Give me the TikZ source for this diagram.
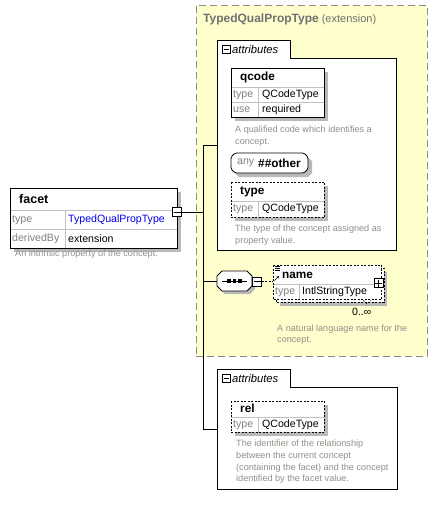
\documentclass[tikz,border=0pt]{standalone}
\usepackage{fontspec}
\setmainfont{Liberation Sans}
\usetikzlibrary{arrows.meta}
\definecolor{yel}{RGB}{255,255,206}
\definecolor{frame}{RGB}{140,140,140}
\definecolor{shadc}{RGB}{185,185,185}
\definecolor{gridc}{RGB}{192,192,192}
\definecolor{lbl}{RGB}{128,128,128}
\definecolor{ttl}{RGB}{112,112,112}
\definecolor{desc}{RGB}{148,142,136}
\definecolor{lnk}{RGB}{0,0,230}
\tikzset{
  x=1pt, y=-1pt,
  bl/.style={line width=0.8pt, draw=black},
  elbox/.style={inner sep=0pt, anchor=north west},
  dsh/.style={dash pattern=on 2pt off 1.5pt},
  cell/.style={inner sep=0pt, anchor=west, font=\fontsize{10.6}{12}\selectfont},
  lab/.style={cell, text=lbl},
  head/.style={inner sep=0pt, anchor=west, font=\fontsize{11.8}{13}\selectfont\bfseries},
  dsc/.style={inner sep=0pt, anchor=north west, align=left, text=desc,
    font=\fontsize{9.1}{11.6}\selectfont},
  sq/.style={draw=black, line width=0.7pt, fill=white, minimum width=9, minimum height=9, inner sep=0pt},
  grid/.style={line width=0.5pt, draw=gridc},
  shd/.style={fill=shadc},
}
\begin{document}
\begin{tikzpicture}
\useasboundingbox (0,0) rectangle (438,507);
\fill[white] (0,0) rectangle (438,507);

% yellow extension frame
\node[draw=frame, fill=yel, line width=0.8pt, dash pattern=on 7pt off 4pt,
  inner sep=0pt, anchor=north west, minimum width=231, minimum height=351] (ext) at (196,5) {};
\node[inner sep=0pt, anchor=west, text=ttl, font=\fontsize{11}{13}\selectfont] (extt) at (203,19)
  {{\fontsize{12}{13}\selectfont\bfseries TypedQualPropType} (extension)};

% ---------- facet ----------
\fill[shd] (14,192) rectangle (181,252);
\node[elbox, fill=white, minimum width=167, minimum height=60] (facet) at (10,188) {};
\draw[grid] (10,210) -- (177,210) (10,229) -- (177,229) (65,210) -- (65,248);
\draw[bl] (facet.north west) rectangle (facet.south east);
\node[head, font=\fontsize{12.5}{14}\selectfont\bfseries] (facetn) at (19,199) {facet};
\node[lab] (ft) at (12,220) {type};
\node[cell, text=lnk] (ftv) at (68,220) {TypedQualPropType};
\node[lab] (fd) at (12,239) {derivedBy};
\node[cell] (fdv) at (68,239) {extension};
\node[dsc] (fdesc) at (15,250) {An intrinsic property of the concept.};
\node[sq] (fm) at (177,212) {};
\draw[line width=0.7pt] (173.5,212) -- (180.5,212);

% ---------- attributes 1 ----------
\node[inner sep=0pt, anchor=north west, minimum width=179, minimum height=192] (attr1) at (217,58) {};
\draw[bl, fill=white] (attr1.south west) -- (217,40) -- (290,40) -- (290,58) -- (attr1.north east)
  -- (attr1.south east) -- cycle;
\node[sq, minimum width=8, minimum height=8] (a1m) at (226.5,49) {};
\draw[line width=0.6pt] (224,49) -- (229,49);
\node[inner sep=0pt, anchor=west, font=\fontsize{11.2}{12}\selectfont\itshape] (a1t) at (232,49) {attributes};

% qcode
\fill[shd] (235,72) rectangle (328,121);
\node[elbox, fill=white, minimum width=93, minimum height=49] (qcode) at (231,68) {};
\draw[grid] (231,87) -- (324,87) (231,102) -- (324,102) (258,87) -- (258,117);
\draw[bl] (qcode.north west) rectangle (qcode.south east);
\node[head] (qn) at (240,77) {qcode};
\node[lab] (qt) at (233,95) {type};
\node[cell] (qtv) at (262,95) {QCodeType};
\node[lab] (qu) at (233,110) {use};
\node[cell] (quv) at (262,110) {required};
\node[dsc] (qdesc) at (235,126) {A qualified code which identifies a\\concept.};

% any ##other
\node[inner sep=0pt, minimum width=77, minimum height=20] (any) at (269.5,163) {};
\fill[shd] (235,161) -- (239,157) -- (308,157) -- (312,161) -- (312,173) -- (308,177) -- (239,177) -- (235,173) -- cycle;
\draw[bl, fill=white, rounded corners=1.5pt] (231,157) -- (235,153) -- (304,153) -- (308,157) -- (308,169) -- (304,173) -- (235,173) -- (231,169) -- cycle;
\node[lab] (anyl) at (237,163) {any};
\node[head] (anyv) at (258,163) {\#\#other};

% type
\fill[shd] (235,186) rectangle (328,221);
\node[elbox, fill=white, minimum width=93, minimum height=35] (typeb) at (231,182) {};
\draw[grid] (231,201) -- (324,201) (258,201) -- (258,217);
\draw[bl, dsh] (typeb.north west) rectangle (typeb.south east);
\node[head] (tn) at (240,191.5) {type};
\node[lab] (tt) at (233,209) {type};
\node[cell] (ttv) at (262,209) {QCodeType};
\node[dsc] (tdesc) at (235,225) {The type of the concept assigned as\\property value.};

% ---------- sequence ----------
\node[inner sep=0pt, minimum width=35, minimum height=21] (seq) at (234.5,281) {};
\fill[shd] (220,279) -- (225,274) -- (250,274) -- (255,279) -- (255,289) -- (250,294) -- (225,294) -- (220,289) -- cycle;
\draw[bl, fill=white] (217,276) -- (222,271) -- (247,271) -- (252,276) -- (252,286) -- (247,291) -- (222,291) -- (217,286) -- cycle;
\draw[line width=0.8pt] (222,281) -- (247,281);
\foreach \xx in {229,234.5,240} \fill (\xx-1.6,279.4) rectangle (\xx+1.6,282.6);
\node[sq] (sm) at (257,281.5) {};
\draw[line width=0.7pt] (253.5,281.5) -- (260.5,281.5);

% ---------- name ----------
\node[inner sep=0pt, anchor=north west, minimum width=108, minimum height=34] (name) at (273,265) {};
\fill[shd] (280,272) rectangle (387,306);
\draw[bl, fill=white, dsh] (276,268) rectangle (384,302);
\fill[white] (name.north west) rectangle (name.south east);
\draw[grid] (273,284) -- (381,284) (299,284) -- (299,299);
\draw[bl, dsh] (name.north west) rectangle (name.south east);
\draw[line width=0.5pt] (274.5,266.5) -- (279.5,266.5) (274.5,268.5) -- (279.5,268.5) (274.5,270.5) -- (279.5,270.5);
\draw[line width=0.6pt, -{Stealth[length=2.5pt,width=2.5pt]}] (274.5,280.5) -- (279,276);
\node[head] (nn) at (282,275) {name};
\node[lab] (nt) at (275,292) {type};
\node[cell] (ntv) at (302,292) {IntlStringType};
\node[sq] (nplus) at (378.5,283) {};
\draw[line width=0.7pt] (375,283) -- (382,283) (378.5,279.5) -- (378.5,286.5);
\draw[line width=0.5pt, dsh] (363,300) -- (367,304) -- (371,300);
\node[inner sep=0pt, anchor=west, font=\fontsize{10.5}{11}\selectfont] (occ) at (352,312) {0..∞};
\node[dsc] (ndesc) at (277,324.5) {A natural language name for the\\concept.};
\draw[dsh, line width=0.6pt] (sm.east) -- (name.west |- sm.east);

% ---------- attributes 2 ----------
\node[inner sep=0pt, anchor=north west, minimum width=180, minimum height=102] (attr2) at (217,387) {};
\draw[bl, fill=white] (attr2.south west) -- (217,369) -- (290,369) -- (290,387) -- (attr2.north east)
  -- (attr2.south east) -- cycle;
\node[sq, minimum width=8, minimum height=8] (a2m) at (226.5,378) {};
\draw[line width=0.6pt] (224,378) -- (229,378);
\node[inner sep=0pt, anchor=west, font=\fontsize{11.2}{12}\selectfont\itshape] (a2t) at (232,378) {attributes};

% rel
\fill[shd] (235,405) rectangle (328,436);
\node[elbox, fill=white, minimum width=93, minimum height=31] (rel) at (231,401) {};
\draw[grid] (231,417) -- (324,417) (258,417) -- (258,432);
\draw[bl, dsh] (rel.north west) rectangle (rel.south east);
\node[head] (rn) at (240,408.5) {rel};
\node[lab] (rt) at (233,425) {type};
\node[cell] (rtv) at (262,425) {QCodeType};
\node[dsc] (rdesc) at (236,440) {The identifier of the relationship\\between the current concept\\(containing the facet) and the concept\\identified by the facet value.};

% ---------- connectors ----------
\coordinate (jt) at (203,145);
\coordinate (jb) at (203,429);
\draw[bl] (jt) -- (jb);
\draw[bl] (fm.east) -- (fm.east -| jt);
\draw[bl] (jt) -- (jt -| attr1.west);
\draw[bl] (seq.west -| jt) -- (seq.west);
\draw[bl] (jb) -- (jb -| attr2.west);
\end{tikzpicture}
\end{document}
